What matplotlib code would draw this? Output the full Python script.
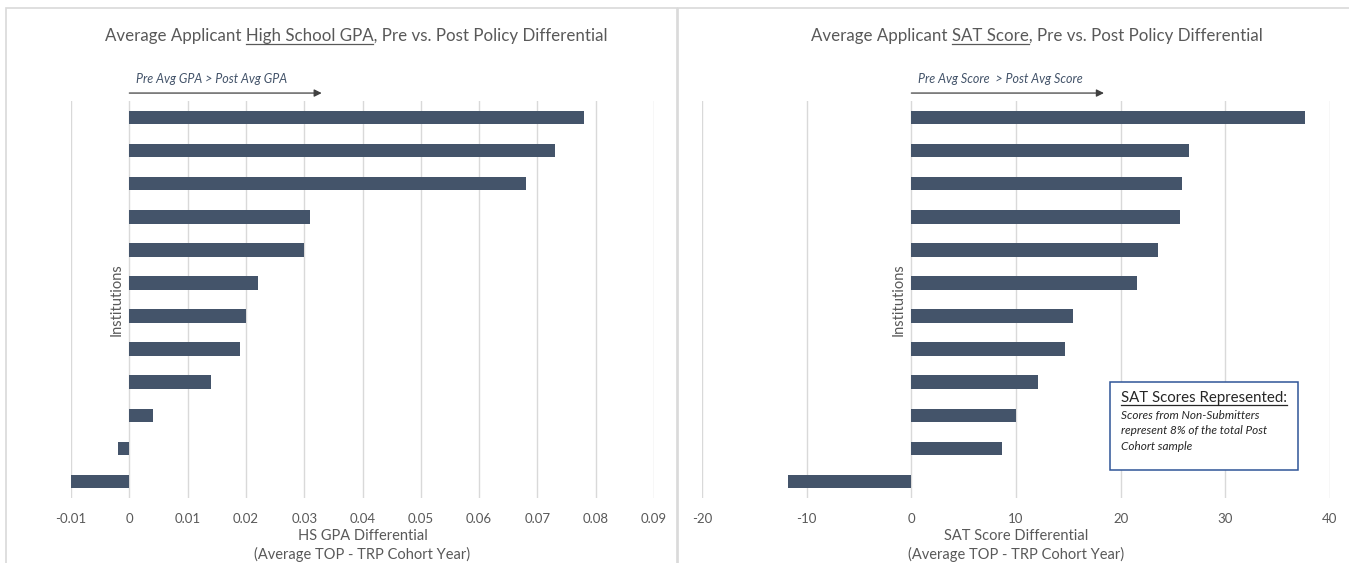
import matplotlib
matplotlib.use("Agg")
import matplotlib.pyplot as plt
from matplotlib.lines import Line2D
from matplotlib.patches import Rectangle
import matplotlib.transforms as mtransforms

# Data (ordered top to bottom)
institutions = list(range(1, 13))
gpa_diff = [0.078, 0.073, 0.068, 0.031, 0.030, 0.022, 0.020, 0.019, 0.014, 0.004, -0.002, -0.010]
sat_diff = [37.6, 26.5, 25.9, 25.7, 23.6, 21.6, 15.4, 14.7, 12.1, 10.0, 8.7, -11.8]

gpa_ticks = [-0.01, 0, 0.01, 0.02, 0.03, 0.04, 0.05, 0.06, 0.07, 0.08, 0.09]
gpa_ticklabels = ["-0.01", "0", "0.01", "0.02", "0.03", "0.04", "0.05", "0.06", "0.07", "0.08", "0.09"]
sat_ticks = [-20, -10, 0, 10, 20, 30, 40]
sat_ticklabels = ["-20", "-10", "0", "10", "20", "30", "40"]

BAR = "#44546A"
GRID = "#D9D9D9"
TXT = "#595959"
FONT = "Lato"
plt.rcParams["font.family"] = [FONT, "DejaVu Sans"]

W, H = 1349, 563
fig = plt.figure(figsize=(W / 100, H / 100), dpi=100)

# panel borders
for x0, x1 in [(6, 677), (678, 1352)]:
    fig.add_artist(Rectangle((x0 / W, -0.05), (x1 - x0) / W, 1.05 - 8 / H,
                             transform=fig.transFigure, fill=False,
                             edgecolor="#D9D9D9", lw=1.2))

ax1 = fig.add_axes([71 / W, 1 - 498 / H, (654 - 71) / W, 397 / H])
ax2 = fig.add_axes([702 / W, 1 - 498 / H, (1330 - 702) / W, 397 / H])


def style(ax, values, ticks, ticklabels, xlabel):
    ax.barh(institutions, values, height=0.41, color=BAR, zorder=3)
    ax.set_ylim(12.5, 0.5)
    ax.set_xlim(ticks[0], ticks[-1])
    ax.set_xticks(ticks)
    ax.set_xticklabels(ticklabels, color=TXT, fontsize=9.5)
    ax.tick_params(axis="x", length=0, pad=11)
    ax.set_yticks([])
    for s in ax.spines.values():
        s.set_visible(False)
    ax.grid(axis="x", color=GRID, lw=1, zorder=0)
    ax.set_xlabel(xlabel, color=TXT, fontsize=10.5, labelpad=3, linespacing=1.25)
    ax.annotate("Institutions", xy=(0, 0.5),
                xycoords=mtransforms.blended_transform_factory(ax.transData, ax.transAxes),
                xytext=(-4, 0), textcoords="offset points", rotation=90,
                ha="right", va="center", color=TXT, fontsize=10.5)


style(ax1, gpa_diff, gpa_ticks, gpa_ticklabels,
      "HS GPA Differential\n(Average TOP - TRP Cohort Year)")
style(ax2, sat_diff, sat_ticks, sat_ticklabels,
      "SAT Score Differential\n(Average TOP - TRP Cohort Year)")


def arrow(ax, x_end, label):
    tr = mtransforms.blended_transform_factory(ax.transData, ax.transAxes)
    ax.annotate("", xy=(x_end, 1.02), xytext=(0, 1.02), xycoords=tr, textcoords=tr,
                arrowprops=dict(arrowstyle="-|>", color="#404040", lw=0.9,
                                mutation_scale=11, shrinkA=0, shrinkB=0),
                annotation_clip=False)
    ax.annotate(label, xy=(0, 1.02), xycoords=tr, xytext=(5, 6),
                textcoords="offset points", ha="left", va="bottom",
                color=BAR, fontsize=9, style="italic", annotation_clip=False)


arrow(ax1, 0.033, "Pre Avg GPA > Post Avg GPA")
arrow(ax2, 18.4, "Pre Avg Score  > Post Avg Score")

renderer = fig.canvas.get_renderer()


def text_w(s, **kw):
    t = fig.text(0, 0, s, **kw)
    w = t.get_window_extent(renderer).width
    t.remove()
    return w


def underlined(x, y, pre, mid, post, ha="center", ul_off=3, zorder=3, **kw):
    t = fig.text(x / W, 1 - y / H, pre + mid + post, ha=ha, va="baseline",
                 zorder=zorder, **kw)
    bb = t.get_window_extent(renderer)
    w_pm = text_w(pre + mid, **kw)
    w_m = text_w(mid, **kw)
    xs = bb.x0 + w_pm - w_m
    xe = bb.x0 + w_pm
    yb = H - y - ul_off
    fig.add_artist(Line2D([xs / W, xe / W], [yb / H, yb / H], transform=fig.transFigure,
                          color=kw.get("color", "k"), lw=0.9, zorder=zorder))


title_kw = dict(fontsize=12.2, color=TXT)
underlined(356, 41, "Average Applicant ", "High School GPA", ", Pre vs. Post Policy Differential", **title_kw)
underlined(1037, 41, "Average Applicant ", "SAT Score", ", Pre vs. Post Policy Differential", **title_kw)

# note box
fig.add_artist(Rectangle((1110 / W, 1 - 470 / H), 188 / W, 88 / H, transform=fig.transFigure,
                         facecolor="white", edgecolor="#2F5597", lw=1.1, zorder=5))
underlined(1121, 402, "", "SAT Scores Represented:", "", ha="left", ul_off=2.5, zorder=6,
           fontsize=10.8, color="#262626")
fig.text(1121 / W, 1 - 410 / H,
         "Scores from Non-Submitters\nrepresent 8% of the total Post\nCohort sample",
         ha="left", va="top", fontsize=8.5, style="italic", color="#262626",
         linespacing=1.5, zorder=6)

fig.savefig("out.png", dpi=100)
